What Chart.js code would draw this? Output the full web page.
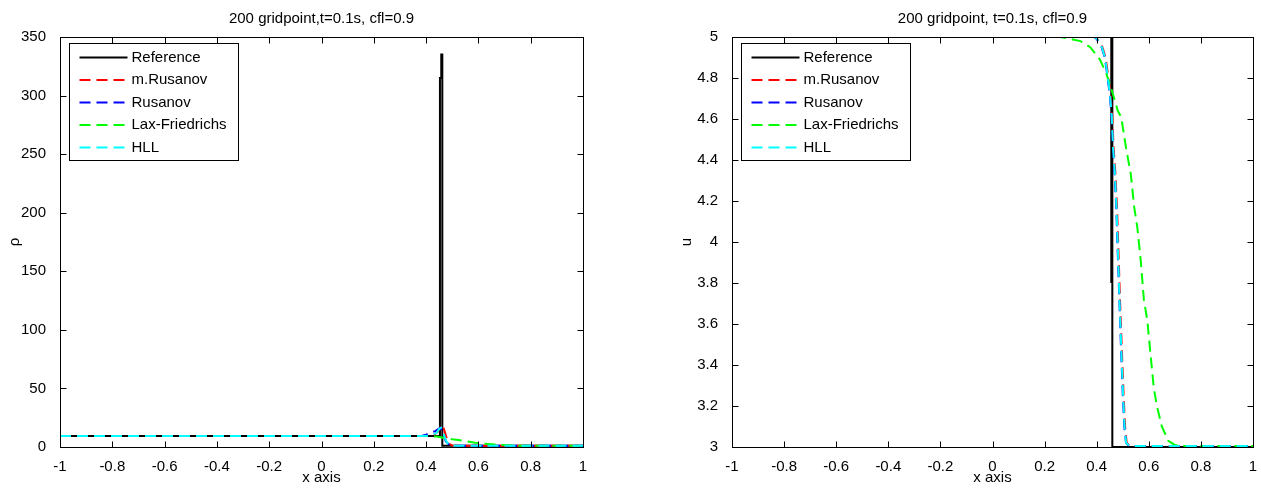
<!DOCTYPE html>
<html>
<head>
<meta charset="utf-8">
<script src="https://cdn.jsdelivr.net/npm/chart.js@4.4.0/dist/chart.umd.min.js"></script>
<style>
    body { margin: 0; background: #fff; }
    #wrap { position: relative; width: 1261px; height: 490px; }
    canvas { position: absolute; top: 0; }
</style>
</head>
<body>
<div id="wrap">
    <canvas id="rhoChart" width="640" height="490" style="left:0px"></canvas>
    <canvas id="uChart" width="621" height="490" style="left:640px"></canvas>
</div>
<script>
const seriesNames = ["Reference", "m.Rusanov", "Rusanov", "Lax-Friedrichs", "HLL"];
const seriesColors = ["#000000", "#ff0000", "#0000ff", "#00ff00", "#00ffff"];

const xTicks = [-1, -0.8, -0.6, -0.4, -0.2, 0, 0.2, 0.4, 0.6, 0.8, 1];
const rhoTicks = [0, 50, 100, 150, 200, 250, 300, 350];
const uTicks = [3, 3.2, 3.4, 3.6, 3.8, 4, 4.2, 4.4, 4.6, 4.8, 5];

// --- densidade (rho) ---
const rhoRefX = [-1, 0.453, 0.453, 0.458, 0.458, 0.462, 0.462, 1];
const rhoRefY = [9.3, 9.3, 315, 315, 335, 335, 1, 1];
const rhoMRusX = [-1, 0.38, 0.41, 0.43, 0.445, 0.455, 0.462, 0.47, 0.48, 0.49, 0.5, 0.52, 1];
const rhoMRusY = [9.3, 9.3, 9.6, 10.5, 13, 17, 19.3, 14, 6.5, 2.5, 1.2, 1, 1];
const rhoRusX = [-1, 0.38, 0.4, 0.42, 0.435, 0.445, 0.455, 0.465, 0.475, 0.49, 0.5, 1];
const rhoRusY = [9.3, 9.3, 10.5, 12.5, 13.5, 15, 16.5, 12, 5, 1.5, 1, 1];
const rhoLfX = [-1, 0.38, 0.415, 0.44, 0.466, 0.5, 0.524, 0.56, 0.587, 0.62, 0.651, 0.68, 0.715, 0.76, 0.8, 1];
const rhoLfY = [9.3, 9.3, 9.3, 8.9, 7.9, 6.6, 5.9, 4.6, 3.7, 2.9, 2.3, 1.8, 1.4, 1.1, 1, 1];
const rhoHllX = [-1, 0.39, 0.42, 0.44, 0.45, 0.458, 0.466, 0.475, 0.485, 0.5, 1];
const rhoHllY = [9.3, 9.3, 10, 12, 15.5, 16.4, 12, 6, 2, 1, 1];

// --- velocidade (u) ---
const uRefX = [-1, 0.456, 0.456, 0.46, 0.46, 1];
const uRefY = [5, 5, 3.8, 5, 3, 3];
const uMRusX = [-1, 0.395, 0.403, 0.422, 0.434, 0.443, 0.453, 0.46, 0.465, 0.472, 0.478, 0.484, 0.49, 0.497, 0.503, 0.509, 0.515, 0.528, 1];
const uMRusY = [5, 5, 4.99, 4.95, 4.9, 4.82, 4.72, 4.61, 4.46, 4.33, 4.17, 3.94, 3.7, 3.46, 3.26, 3.1, 3.02, 3.005, 3.005];
const uRusX = [-1, 0.39, 0.4, 0.419, 0.431, 0.44, 0.45, 0.4575, 0.4625, 0.469, 0.475, 0.481, 0.4875, 0.494, 0.5, 0.506, 0.5125, 0.525, 1];
const uRusY = [5, 5, 4.99, 4.95, 4.9, 4.82, 4.72, 4.61, 4.46, 4.33, 4.17, 3.94, 3.7, 3.46, 3.26, 3.1, 3.02, 3.005, 3.005];
const uLfX = [-1, 0.26, 0.281, 0.3375, 0.375, 0.4125, 0.4375, 0.4625, 0.481, 0.494, 0.5125, 0.531, 0.544, 0.556, 0.569, 0.581, 0.594, 0.606, 0.619, 0.631, 0.65, 0.675, 0.7, 0.7375, 1];
const uLfY = [5, 5, 4.995, 4.98, 4.95, 4.89, 4.82, 4.72, 4.64, 4.61, 4.46, 4.33, 4.17, 4.07, 3.91, 3.72, 3.62, 3.46, 3.29, 3.2, 3.1, 3.03, 3.01, 3.005, 3.005];
const uHllX = [-1, 0.392, 0.402, 0.42, 0.432, 0.441, 0.451, 0.458, 0.463, 0.47, 0.476, 0.482, 0.488, 0.495, 0.501, 0.507, 0.513, 0.526, 1];
const uHllY = [5, 5, 4.99, 4.95, 4.9, 4.82, 4.72, 4.61, 4.46, 4.33, 4.17, 3.94, 3.7, 3.46, 3.26, 3.1, 3.02, 3.005, 3.005];

const FONT = '"Liberation Sans", Arial, sans-serif';
Chart.defaults.font.family = FONT;
Chart.defaults.font.size = 15;
Chart.defaults.color = "#000";

// moldura estilo MATLAB: caixa, ticks para dentro, titulo e legenda
const matlabFrame = {
    id: "matlabFrame",
    afterDatasetsDraw(chart, args, opts) {
        const { ctx, chartArea: a, scales } = chart;
        const L = Math.round(a.left) + 0.5, R = Math.round(a.right) + 0.5;
        const T = Math.round(a.top) + 0.5, B = Math.round(a.bottom) + 0.5;
        ctx.save();
        ctx.strokeStyle = "#000";
        ctx.lineWidth = 1;
        ctx.setLineDash([]);
        ctx.strokeRect(L, T, R - L, B - T);

        ctx.beginPath();
        scales.x.ticks.forEach(t => {
            const px = Math.round(scales.x.getPixelForValue(t.value)) + 0.5;
            ctx.moveTo(px, B); ctx.lineTo(px, B - 6);
            ctx.moveTo(px, T); ctx.lineTo(px, T + 6);
        });
        scales.y.ticks.forEach(t => {
            const py = Math.round(scales.y.getPixelForValue(t.value)) + 0.5;
            ctx.moveTo(L, py); ctx.lineTo(L + 6, py);
            ctx.moveTo(R, py); ctx.lineTo(R - 6, py);
        });
        ctx.stroke();

        // titulo
        ctx.fillStyle = "#000";
        ctx.font = "15px " + FONT;
        ctx.textAlign = "center";
        ctx.textBaseline = "middle";
        ctx.fillText(opts.text, (a.left + a.right) / 2, 19);

        // legenda
        const x0 = Math.round(a.left) + 9.5, y0 = Math.round(a.top) + 6.5;
        ctx.fillStyle = "#fff";
        ctx.fillRect(x0, y0, 169, 117);
        ctx.strokeRect(x0, y0, 169, 117);
        ctx.textAlign = "left";
        chart.data.datasets.forEach((ds, i) => {
            const y = y0 + 14 + i * 22.5;
            ctx.beginPath();
            ctx.strokeStyle = ds.borderColor;
            ctx.lineWidth = 2;
            ctx.setLineDash(ds.borderDash || []);
            ctx.moveTo(x0 + 10, y);
            ctx.lineTo(x0 + 58, y);
            ctx.stroke();
            ctx.fillStyle = "#000";
            ctx.fillText(ds.label, x0 + 62, y);
        });
        ctx.restore();
    }
};

function buildDatasets(xs, ys) {
    return xs.map((xArr, i) => ({
        label: seriesNames[i],
        data: xArr.map((x, j) => ({ x: x, y: ys[i][j] })),
        borderColor: seriesColors[i],
        backgroundColor: seriesColors[i],
        borderWidth: 2,
        borderDash: i === 0 ? [] : [11, 6],
        pointRadius: 0,
        tension: 0,
        fill: false,
        clip: 0,
        order: seriesNames.length - 1 - i
    }));
}

function makeChart(id, cfg) {
    const ctx = document.getElementById(id).getContext("2d");
    return new Chart(ctx, {
        type: "line",
        data: { datasets: buildDatasets(cfg.xs, cfg.ys) },
        options: {
            responsive: false,
            animation: false,
            layout: { padding: { left: 0, right: cfg.padRight, top: 37, bottom: 0 } },
            plugins: {
                legend: { display: false },
                tooltip: { enabled: false },
                matlabFrame: { text: cfg.title }
            },
            scales: {
                x: {
                    type: "linear",
                    min: -1,
                    max: 1,
                    afterBuildTicks: s => { s.ticks = xTicks.map(v => ({ value: v })); },
                    afterFit: s => { s.height = 43; },
                    grid: { display: false },
                    border: { display: false },
                    ticks: { padding: 3, maxRotation: 0, autoSkip: false, callback: v => String(v) },
                    title: { display: true, text: "x axis", padding: { top: 0, bottom: 3 } }
                },
                y: {
                    type: "linear",
                    min: cfg.yMin,
                    max: cfg.yMax,
                    afterBuildTicks: s => { s.ticks = cfg.yTicks.map(v => ({ value: v })); },
                    afterFit: s => { s.width = cfg.yWidth; },
                    grid: { display: false },
                    border: { display: false },
                    ticks: { padding: 6, autoSkip: false, callback: v => String(v) },
                    title: { display: true, text: cfg.yTitle, padding: { top: cfg.yTitlePad, bottom: 0 } }
                }
            }
        },
        plugins: [matlabFrame]
    });
}

makeChart("rhoChart", {
    title: "200 gridpoint,t=0.1s, cfl=0.9",
    yTitle: "ρ",
    yMin: 0, yMax: 350, yTicks: rhoTicks,
    yWidth: 60, yTitlePad: 6, padRight: 57,
    xs: [rhoRefX, rhoMRusX, rhoRusX, rhoLfX, rhoHllX],
    ys: [rhoRefY, rhoMRusY, rhoRusY, rhoLfY, rhoHllY]
});

makeChart("uChart", {
    title: "200 gridpoint, t=0.1s, cfl=0.9",
    yTitle: "u",
    yMin: 3, yMax: 5, yTicks: uTicks,
    yWidth: 92, yTitlePad: 38, padRight: 8,
    xs: [uRefX, uMRusX, uRusX, uLfX, uHllX],
    ys: [uRefY, uMRusY, uRusY, uLfY, uHllY]
});
</script>
</body>
</html>
